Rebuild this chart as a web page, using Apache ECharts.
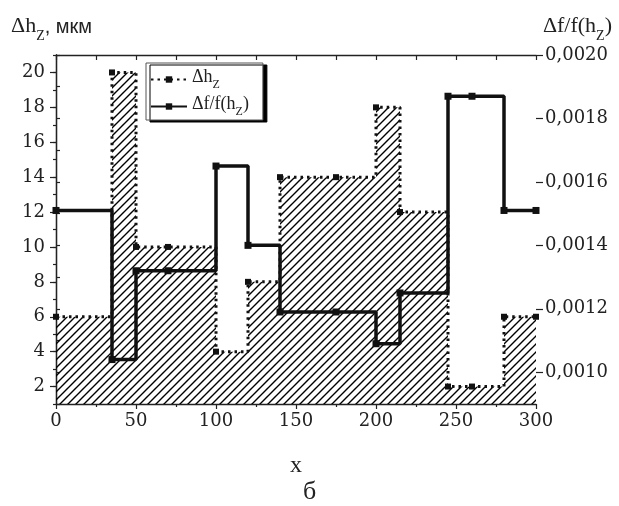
<!DOCTYPE html>
<html>
<head>
<meta charset="utf-8">
<script src="https://cdn.jsdelivr.net/npm/echarts@6/dist/echarts.min.js"></script>
<style>
html,body{margin:0;padding:0;background:#fff;}
#c{width:619px;height:506px;}
</style>
</head>
<body>
<div id="c"></div>
<script>
// Data
const xs = [0, 35, 50, 70, 100, 120, 140, 175, 200, 215, 245, 260, 280, 300];
const dhValues = [6, 20, 10, 10, 4, 8, 14, 14, 18, 12, 2, 2, 6, 6];
const dfValues = [0.00151, 0.00104, 0.00132, 0.00132, 0.00165, 0.00140, 0.00119, 0.00119, 0.00109, 0.00125, 0.00187, 0.00187, 0.00151, 0.00151];
const leftTicks = [2, 4, 6, 8, 10, 12, 14, 16, 18, 20];
const rightTicks = [0.0010, 0.0012, 0.0014, 0.0016, 0.0018, 0.0020];

const SERIF = 'Liberation Serif';
const TICKFONT = 'DejaVu Serif';
const hatch = document.createElement('canvas');
hatch.width = 8; hatch.height = 8;
const hc = hatch.getContext('2d');
hc.strokeStyle = '#000'; hc.lineWidth = 1.4;
hc.beginPath();
hc.moveTo(0, 8); hc.lineTo(8, 0);
hc.moveTo(-2, 2); hc.lineTo(2, -2);
hc.moveTo(6, 10); hc.lineTo(10, 6);
hc.stroke();

const chart = echarts.init(document.getElementById('c'));
const axisLine = { show: true, lineStyle: { color: '#222', width: 1.3 } };
const tickStyle = { color: '#222', width: 1.2 };
const labelStyle = { color: '#222', fontFamily: TICKFONT, fontSize: 18 };

chart.setOption({
  animation: false,
  backgroundColor: '#fff',
  grid: { left: 56, right: 83, top: 55, bottom: 102 },
  graphic: [
    { type: 'text', left: 11, top: 15, style: {
      text: '{a|Δh}{s|Z}{b|, мкм}',
      rich: {
        a: { fontFamily: SERIF, fontSize: 22, fill: '#222', verticalAlign: 'bottom', padding: [0, 0, 6, 0] },
        s: { fontFamily: SERIF, fontSize: 14, fill: '#222', verticalAlign: 'bottom' },
        b: { fontFamily: 'Liberation Sans', fontSize: 20, fill: '#222', verticalAlign: 'bottom', padding: [0, 0, 6, 0] }
      } } },
    { type: 'text', right: 7, top: 15, style: {
      text: '{a|Δf/f(h}{s|Z}{a|)}',
      rich: {
        a: { fontFamily: SERIF, fontSize: 22, fill: '#222', verticalAlign: 'bottom', padding: [0, 0, 6, 0] },
        s: { fontFamily: SERIF, fontSize: 14, fill: '#222', verticalAlign: 'bottom' }
      } } },
    { type: 'text', left: 'center', top: 479, style: { text: 'б', fontFamily: SERIF, fontSize: 26, fill: '#222' } }
  ],
  legend: {
    left: 146, top: 63, orient: 'vertical',
    padding: [5, 14, 2, 4], itemGap: 4, itemWidth: 36, itemHeight: 8,
    backgroundColor: '#fff', borderColor: '#555', borderWidth: 1,
    shadowColor: '#000', shadowBlur: 0, shadowOffsetX: 4, shadowOffsetY: 2,
    data: ['dh', 'df'],
    formatter: function (n) { return n === 'dh' ? '{a|Δh}{s|Z}' : '{a|Δf/f(h}{s|Z}{a|)}'; },
    textStyle: {
      rich: {
        a: { fontFamily: SERIF, fontSize: 18, color: '#222', verticalAlign: 'bottom', padding: [0, 0, 5, 0] },
        s: { fontFamily: SERIF, fontSize: 12, color: '#222', verticalAlign: 'bottom' }
      }
    }
  },
  xAxis: [
    { type: 'value', min: 0, max: 300, interval: 50, position: 'bottom',
      axisLine: axisLine, splitLine: { show: false },
      axisTick: { show: true, length: 5, lineStyle: tickStyle },
      minorTick: { show: true, splitNumber: 2, length: 3, lineStyle: tickStyle },
      axisLabel: Object.assign({ margin: 8 }, labelStyle),
      name: 'x', nameLocation: 'middle', nameGap: 50,
      nameTextStyle: { fontFamily: SERIF, fontSize: 24, color: '#222' } },
    { type: 'value', min: 0, max: 300, interval: 25, position: 'top',
      axisLine: axisLine, splitLine: { show: false },
      axisTick: { show: true, inside: true, length: 5, lineStyle: tickStyle },
      axisLabel: { show: false } }
  ],
  yAxis: [
    { type: 'value', min: 1, max: 21, interval: 1, position: 'left',
      axisLine: axisLine, splitLine: { show: false },
      axisTick: { show: true, length: 3, lineStyle: tickStyle },
      axisLabel: Object.assign({ margin: 11, customValues: leftTicks }, labelStyle) },
    { type: 'value', min: 0.0009, max: 0.002, interval: 0.0001, position: 'right',
      axisLine: axisLine, splitLine: { show: false },
      axisTick: { show: true, length: 4, lineStyle: tickStyle },
      axisLabel: Object.assign({ margin: 9, customValues: rightTicks,
        formatter: function (v) { return v.toFixed(4).replace('.', ','); } }, labelStyle) },
    { type: 'value', min: 1, max: 21, position: 'left',
      axisLine: { show: false }, splitLine: { show: false },
      axisTick: { show: true, length: 6, customValues: leftTicks, lineStyle: tickStyle },
      axisLabel: { show: false } },
    { type: 'value', min: 0.0009, max: 0.002, position: 'right',
      axisLine: { show: false }, splitLine: { show: false },
      axisTick: { show: true, length: 7, customValues: rightTicks, lineStyle: tickStyle },
      axisLabel: { show: false } }
  ],
  series: [
    { name: 'dh', type: 'line', step: 'end', xAxisIndex: 0, yAxisIndex: 0,
      data: xs.map(function (x, i) { return [x, dhValues[i]]; }),
      symbol: 'rect', symbolSize: 6, showSymbol: true,
      itemStyle: { color: '#111' },
      lineStyle: { color: '#111', width: 3, type: [2.5, 4] },
      areaStyle: { origin: 'start', opacity: 1, color: { image: hatch, repeat: 'repeat' } },
      z: 2 },
    { name: 'df', type: 'line', step: 'end', xAxisIndex: 0, yAxisIndex: 1,
      data: xs.map(function (x, i) { return [x, dfValues[i]]; }),
      symbol: 'rect', symbolSize: 7, showSymbol: true,
      itemStyle: { color: '#111' },
      lineStyle: { color: '#111', width: 3.5 },
      z: 3 }
  ]
});
</script>
</body>
</html>
